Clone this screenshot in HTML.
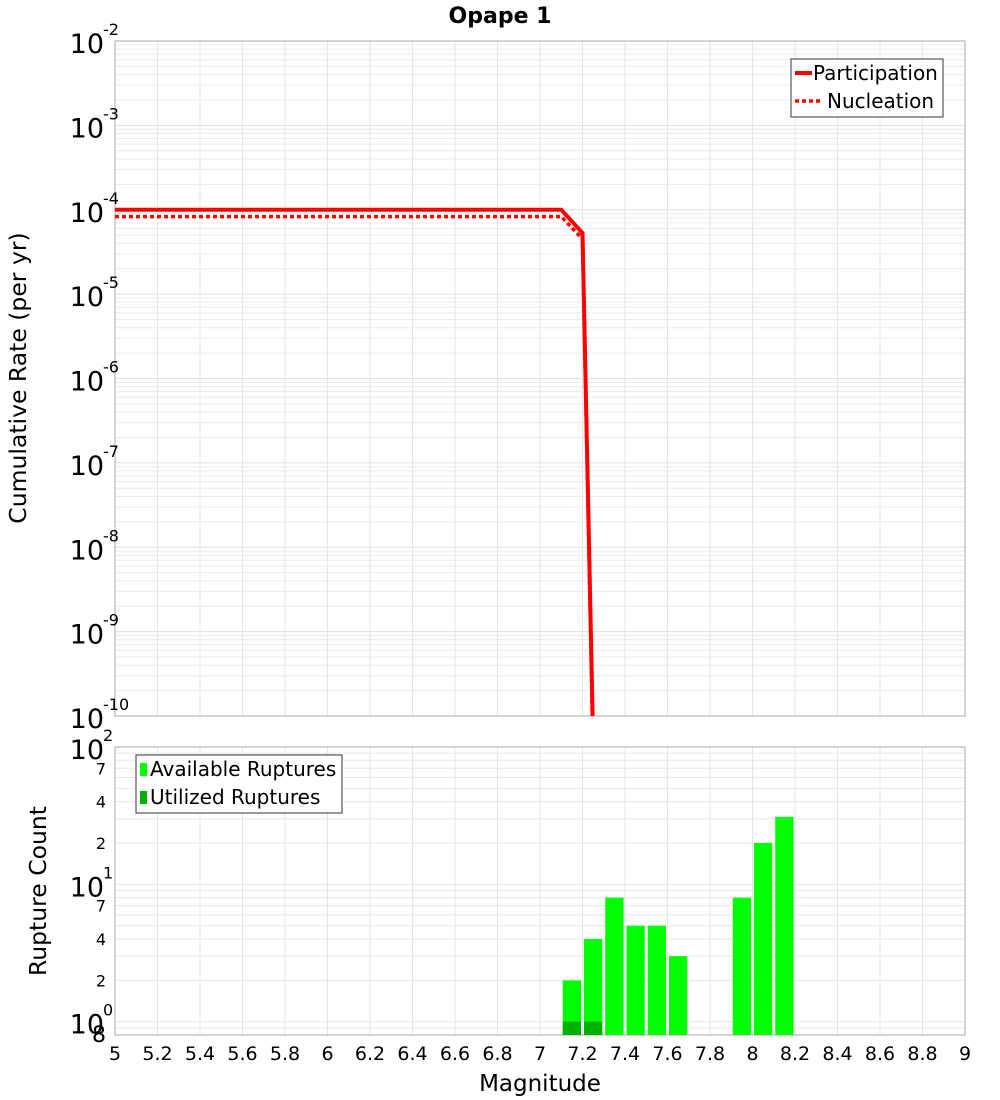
<!DOCTYPE html>
<html><head><meta charset="utf-8"><style>
html,body{margin:0;background:#fff;font-family:"Liberation Sans","DejaVu Sans",sans-serif;overflow:hidden}
svg{display:block}
svg text{font-family:"DejaVu Sans","Liberation Sans",sans-serif}
</style></head><body>
<svg id="c" width="1000" height="1100" xmlns="http://www.w3.org/2000/svg">
<text x="500" y="23" text-anchor="middle" font-size="22" font-weight="bold">Opape 1</text>
<text transform="translate(26,378) rotate(-90)" text-anchor="middle" font-size="23.5">Cumulative Rate (per yr)</text>
<text transform="translate(46,891) rotate(-90)" text-anchor="middle" font-size="23.5">Rupture Count</text>
<text x="540" y="1091" text-anchor="middle" font-size="23">Magnitude</text>
<g id="g"></g>
</svg>
<script>
const xTicks=[5,5.2,5.4,5.6,5.8,6,6.2,6.4,6.6,6.8,7,7.2,7.4,7.6,7.8,8,8.2,8.4,8.6,8.8,9];
const topDecades=[-10,-9,-8,-7,-6,-5,-4,-3,-2];
const partM=[5,7.1,7.2,7.3];
const partV=[1e-4,1e-4,5.3e-5,5e-17];
const nuclM=[5,7.1,7.2,7.3];
const nuclV=[8.3e-5,8.3e-5,4.5e-5,2e-17];
const binM=[7.1,7.2,7.3,7.4,7.5,7.6,7.9,8.0,8.1];
const availCount=[2,4,8,5,5,3,8,20,31];
const utilM=[7.1,7.2];
const utilCount=[1,1];
const botTickVals=[2,4,7,20,40,70];

const NS="http://www.w3.org/2000/svg";
const g=document.getElementById('g');
const L=115,R=965,T1=41,B1=716,T2=747,B2=1035;
const X=m=>L+(m-5)/4*(R-L);
const Y1=v=>T1+(-2-Math.log10(v))/8*(B1-T1);
const lmin=Math.log10(0.8),lmax=2;
const Y2=v=>B2-(Math.log10(v)-lmin)/(lmax-lmin)*(B2-T2);
function el(t,a,p){const e=document.createElementNS(NS,t);for(const k in a)e.setAttribute(k,a[k]);(p||g).appendChild(e);return e;}
function txt(x,y,s,fs,anch){const e=el('text',{x:x,y:y,'font-size':fs,'text-anchor':anch||'middle'});e.textContent=s;return e;}
const defs=el('defs',{});
const c1=el('clipPath',{id:'cp1'},defs);el('rect',{x:L,y:T1,width:R-L,height:B1-T1},c1);
for(const d of topDecades){for(let k=1;k<10;k++){if(d==-2&&k>1)break;const y=Y1(k*Math.pow(10,d));
const ln=el('line',{x1:L,x2:R,y1:y,y2:y,stroke:k==1?'#e0e0e0':'#ececec','stroke-width':1});
}}
for(const t of xTicks){for(const[a,b]of[[T1,B1],[T2,B2]]){const ln=el('line',{x1:X(t),x2:X(t),y1:a,y2:b,stroke:'#e6e6e6'});
}}
for(let d=-1;d<2;d++){for(let k=1;k<10;k++){const v=k*Math.pow(10,d);if(v<0.8||v>100)continue;const y=Y2(v);
const ln=el('line',{x1:L,x2:R,y1:y,y2:y,stroke:'#e8e8e8'});
}}
for(const[a,b]of[[T1,B1],[T2,B2]]){const r=el('rect',{x:L,y:a,width:R-L,height:b-a,fill:'none',stroke:'#aaa'});
}
for(const d of topDecades){const y=Y1(Math.pow(10,d));
const t=txt(104,y+12,'10',27,'end');
const s=txt(103,y-6,String(d),16,'start');}
function line(ms,vs,dash,name){const p=ms.map((m,i)=>X(m)+','+Y1(vs[i])).join(' ');
const e=el('polyline',{points:p,fill:'none',stroke:'#f00','stroke-width':dash?3.5:4,'stroke-dasharray':dash?'4,3':'none','clip-path':'url(#cp1)'});
}
line(nuclM,nuclV,true,'nucleation-line');
line(partM,partV,false,'participation-line');
const lg=el('g',{});
el('rect',{x:791,y:59,width:152,height:58,fill:'#fff',stroke:'#333'},lg);
el('line',{x1:795,x2:812,y1:73,y2:73,stroke:'#f00','stroke-width':4},lg);
el('line',{x1:795,x2:822,y1:101,y2:101,stroke:'#f00','stroke-width':3.5,'stroke-dasharray':'4,3'},lg);
let t=el('text',{x:813,y:80,'font-size':20},lg);t.textContent='Participation';
t=el('text',{x:827,y:108,'font-size':20},lg);t.textContent='Nucleation';
const bw=X(5.1)-X(5);
binM.forEach((m,i)=>{const y=Y2(availCount[i]);const r=el('rect',{x:X(m)+1.5,y:y,width:bw-3,height:B2-y,fill:'#00ff00'});
});
utilM.forEach((m,i)=>{const y=Y2(utilCount[i]);const r=el('rect',{x:X(m)+1.5,y:y,width:bw-3,height:B2-y,fill:'#00b000'});
});
for(const d of [0,1,2]){const y=Y2(Math.pow(10,d));
const a=txt(104,y+12,'10',27,'end');
const b=txt(103,y-6,String(d),16,'start');}
for(const v of botTickVals){const y=Y2(v);const a=txt(106,y+6,String(v<10?v:v/10),16,'end');
}
const e8=txt(106,1042,'8',22,'end');
for(const v of xTicks){const a=txt(X(v),1060,String(v),19);}
const lb=el('g',{});
el('rect',{x:136,y:755,width:206,height:58,fill:'#fff',stroke:'#333'},lb);
el('rect',{x:140,y:763,width:7,height:13,fill:'#00ff00'},lb);
el('rect',{x:140,y:791,width:7,height:13,fill:'#00b000'},lb);
t=el('text',{x:150,y:776,'font-size':20},lb);t.textContent='Available Ruptures';
t=el('text',{x:150,y:804,'font-size':20},lb);t.textContent='Utilized Ruptures';
</script>
</body></html>
